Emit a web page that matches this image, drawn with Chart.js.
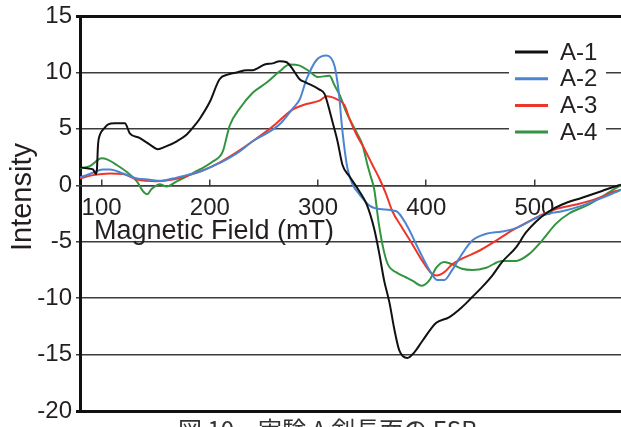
<!DOCTYPE html>
<html lang="ja">
<head>
<meta charset="UTF-8">
<title>ESR</title>
<script src="https://cdn.jsdelivr.net/npm/chart.js"></script>
<style>
  body { margin: 0; padding: 0; background: #fff; }
  #wrap { width: 621px; height: 427px; }
</style>
</head>
<body>
<div id="wrap"><canvas id="esr" width="621" height="427"></canvas></div>
<script>
// magnetic field (mT) / intensity
const fieldA1 = [80, 86.5, 92, 94.8, 95.7, 96.6, 98.5, 102, 106, 112, 121.5, 126, 135, 144.6, 152, 158.4, 169.5, 178.7, 186, 190.7, 200, 209, 216.5, 225, 234, 239.6, 250.7, 258, 264.5, 271, 276.5, 283, 289, 301, 306, 309, 313.4, 318, 322.6, 329, 338, 345, 352, 356.7, 361, 366, 370.6, 375, 382.6, 389, 396.4, 409, 421, 433, 442.5, 451.8, 461, 470, 483, 492, 501.6, 513.6, 525.6, 544, 562.5, 578, 580];
const intensityA1 = [1.6, 1.5, 1.4, 1.0, 1.5, 3.5, 4.5, 5.0, 5.4, 5.5, 5.5, 4.6, 4.2, 3.6, 3.2, 3.4, 3.9, 4.5, 5.3, 5.9, 7.4, 9.4, 9.8, 10.0, 10.2, 10.2, 10.7, 10.8, 11.0, 10.9, 10.3, 9.4, 9.1, 8.5, 8.1, 7.2, 5.6, 3.9, 1.8, 0.8, -0.5, -1.7, -3.9, -6.1, -8.4, -10.4, -12.8, -14.6, -15.3, -14.8, -13.8, -12.2, -11.7, -10.8, -9.9, -9.0, -8.0, -6.8, -5.5, -4.2, -3.2, -2.3, -1.7, -1.1, -0.5, 0, 0.05];

const fieldA2 = [80, 89, 101, 107.7, 119.7, 132.6, 144.6, 153.8, 165.8, 178.7, 190.7, 202.7, 215.6, 227.6, 239.6, 252.5, 264.5, 276.5, 283, 289.4, 298.6, 307.9, 315.2, 318, 319.9, 321.7, 324.5, 327.2, 331.8, 338.3, 347.5, 356.7, 372.4, 381.7, 393.6, 402.9, 410, 416.7, 424, 433, 442.5, 455.5, 470, 483, 501.6, 513.6, 525.6, 544, 562.5, 578, 580];
const intensityA2 = [0.7, 1.0, 1.4, 1.4, 1.05, 0.6, 0.5, 0.4, 0.6, 0.9, 1.2, 1.7, 2.3, 3.0, 3.9, 4.6, 5.4, 6.8, 7.6, 9.4, 11.1, 11.5, 10.6, 9.1, 7.6, 5.6, 3.2, 1.5, 0.1, -0.8, -1.8, -2.1, -2.3, -3.5, -5.8, -7.5, -8.4, -8.4, -7.5, -6.1, -4.9, -4.3, -4.1, -3.8, -2.9, -2.5, -2.3, -1.8, -1.1, -0.5, -0.4];

const fieldA3 = [80, 92, 107.7, 119.7, 132.6, 151, 165.8, 184, 202.7, 221, 239.6, 258, 276.5, 289.4, 301.4, 308, 318, 324.5, 329, 335.5, 343, 350.3, 356.7, 363, 368.7, 378, 387, 396.4, 404.7, 409.3, 416.7, 424, 433, 449, 464.7, 479.4, 495, 507, 520, 538.5, 557, 575.4, 580];
const intensityA3 = [0.6, 0.9, 1.05, 1.0, 0.5, 0.35, 0.5, 1.0, 1.7, 2.7, 3.9, 5.2, 6.7, 7.2, 7.5, 7.9, 7.6, 7.1, 5.9, 4.5, 3.2, 1.8, 0.6, -0.8, -2.3, -3.8, -5.2, -6.7, -7.8, -8.0, -7.7, -7.0, -6.5, -5.8, -4.9, -4.0, -3.2, -2.6, -2.1, -1.7, -1.2, -0.5, -0.4];

const fieldA4 = [80, 89, 100, 105, 114, 123, 132.6, 138, 142, 146.4, 153.8, 160, 169.5, 178.7, 190.7, 202.7, 212, 215.6, 218.4, 227.6, 239.6, 252.5, 264.5, 273.7, 283, 292, 299.6, 310.6, 315, 320, 326, 335.5, 341, 345.7, 348, 352, 356, 361, 365, 372, 380, 388, 395.5, 403, 409.3, 416.7, 424, 433, 442.5, 455.5, 470, 483, 495, 507, 520, 532, 550.5, 566, 578, 580];
const intensityA4 = [1.5, 1.7, 2.4, 2.3, 1.8, 1.2, 0.35, -0.5, -0.8, -0.3, 0.1, -0.1, 0.35, 0.8, 1.4, 2.1, 3.0, 4.3, 5.3, 6.8, 8.2, 9.1, 10.1, 10.7, 10.6, 10.1, 9.6, 9.7, 8.9, 8.0, 6.5, 4.7, 3.6, 1.8, 1.0, -0.4, -3.3, -5.9, -7.1, -7.7, -8.1, -8.5, -8.9, -8.4, -7.3, -6.8, -7.0, -7.4, -7.5, -7.3, -6.7, -6.7, -6.1, -4.9, -3.4, -2.5, -1.7, -0.8, -0.1, 0.0];

const seriesNames = ['A-1', 'A-2', 'A-3', 'A-4'];
const seriesColors = ['#111111', '#4a84d2', '#ee3528', '#339440'];
const xTicks = [100, 200, 300, 400, 500];

const FONT = "'Liberation Sans', Arial, sans-serif";
const TXT = '#231f20';

const fields = [fieldA1, fieldA2, fieldA3, fieldA4];
const values = [intensityA1, intensityA2, intensityA3, intensityA4];

const datasets = seriesNames.map((name, i) => ({
    label: name,
    data: fields[i].map((x, j) => ({ x: x, y: values[i][j] })),
    borderColor: seriesColors[i],
    borderWidth: 2,
    pointRadius: 0,
    fill: false,
    cubicInterpolationMode: 'monotone'
}));

// titles, caption and legend box
const extras = {
    id: 'extras',
    afterDraw(chart) {
        const ctx = chart.ctx;
        ctx.save();
        ctx.fillStyle = TXT;

        ctx.font = '29px ' + FONT;
        ctx.textAlign = 'center';
        ctx.textBaseline = 'middle';
        ctx.save();
        ctx.translate(23, 197);
        ctx.rotate(-Math.PI / 2);
        ctx.fillText('Intensity', 0, 0);
        ctx.restore();

        ctx.font = '27px ' + FONT;
        ctx.textAlign = 'left';
        ctx.textBaseline = 'alphabetic';
        ctx.fillText('Magnetic Field (mT)', 94, 239);

        // legend
        ctx.fillStyle = '#fff';
        ctx.fillRect(509, 36, 97, 110);
        ctx.font = '24px ' + FONT;
        ctx.textBaseline = 'middle';
        chart.data.datasets.forEach((ds, i) => {
            const y = 52 + i * 26.7;
            ctx.strokeStyle = ds.borderColor;
            ctx.lineWidth = 3;
            ctx.beginPath();
            ctx.moveTo(515, y);
            ctx.lineTo(548, y);
            ctx.stroke();
            ctx.fillStyle = TXT;
            ctx.fillText(ds.label, 560, y + 1);
        });

        // caption, cut by the bottom edge
        ctx.font = "24px 'Noto Sans CJK JP', sans-serif";
        ctx.textBaseline = 'top';
        ctx.fillStyle = '#333';
        ctx.fillText('図 10　実験 A 剣長面の ESR', 178, 418);
        ctx.restore();
    }
};

new Chart(document.getElementById('esr'), {
    type: 'line',
    data: { datasets: datasets },
    options: {
        responsive: false,
        devicePixelRatio: 1,
        animation: false,
        layout: { padding: { top: 13, bottom: 15, left: 0, right: 0 } },
        plugins: {
            legend: { display: false },
            tooltip: { enabled: false }
        },
        scales: {
            y: {
                type: 'linear',
                min: -20,
                max: 15,
                afterFit: s => { s.width = 80; },
                ticks: {
                    stepSize: 5,
                    color: TXT,
                    padding: 4,
                    font: { family: FONT, size: 24, lineHeight: 1 }
                },
                grid: {
                    color: c => (c.tick && (c.tick.value === 15 || c.tick.value === -20)) ? '#111' : '#3c3c3c',
                    lineWidth: c => (c.tick && (c.tick.value === 15 || c.tick.value === -20)) ? 3 : 1.5,
                    tickLength: 4
                },
                border: { color: '#111', width: 3 }
            },
            x: {
                type: 'linear',
                position: { y: 0 },
                min: 80,
                max: 580,
                afterBuildTicks: s => {
                    s.ticks = xTicks.map(v => ({ value: v }));
                },
                ticks: {
                    color: TXT,
                    padding: 18,
                    maxRotation: 0,
                    font: { family: FONT, size: 24, lineHeight: 1 }
                },
                grid: {
                    drawOnChartArea: false,
                    drawTicks: true,
                    tickLength: -7,
                    color: '#3c3c3c',
                    lineWidth: 1.5
                },
                border: { color: '#3c3c3c', width: 1.5 }
            }
        }
    },
    plugins: [extras]
});
</script>
</body>
</html>
